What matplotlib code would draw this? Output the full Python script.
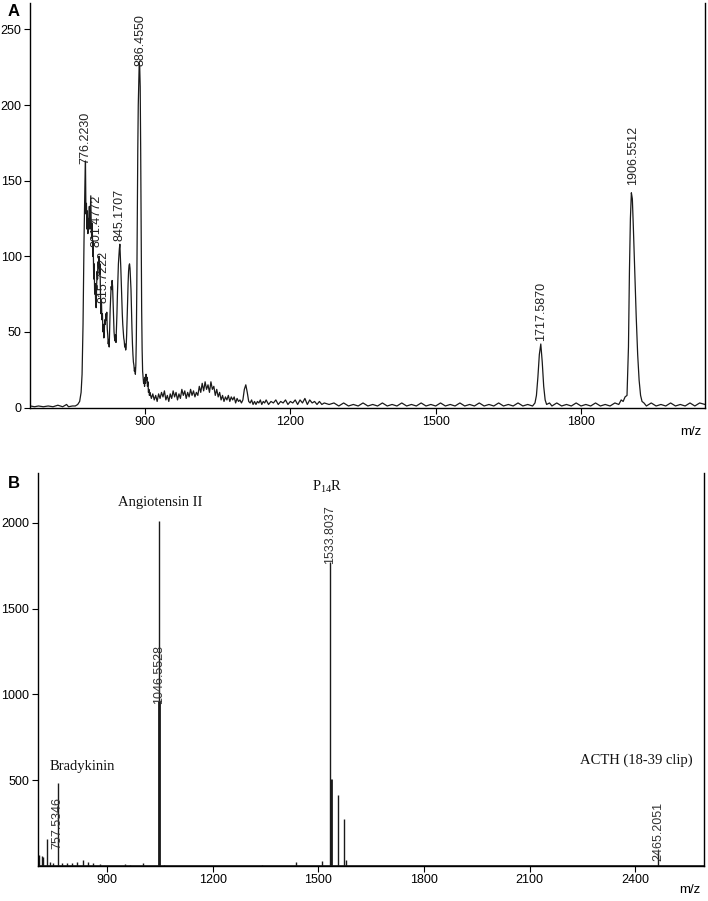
import numpy as np
import matplotlib.pyplot as plt

plt.rcParams['font.family'] = ['Liberation Sans', 'DejaVu Sans']

# ---- panel A: MALDI spectrum trace (m/z, intensity)
trace_a = [
    (663, 1), (672, 0.5), (680, 1), (690, 0.5), (700, 1), (710, 0.5), (720, 1.5),
    (730, 0.5), (738, 2), (742, 0.5), (750, 1), (756, 1), (761, 2), (765, 4),
    (768, 10), (770, 22), (772, 55), (774, 110), (776, 150), (777, 163),
    (778, 128), (779, 135), (780, 118), (781, 130), (782, 115), (783, 125),
    (784, 120), (785, 133), (786, 118), (787, 128), (788, 140), (789, 118),
    (790, 112), (791, 122), (792, 100), (793, 110), (794, 85), (795, 95),
    (796, 75), (797, 82), (798, 70), (799, 66), (800, 80), (801, 90), (802, 85),
    (803, 96), (804, 92), (805, 100), (806, 88), (807, 95), (808, 75), (809, 62),
    (810, 70), (811, 58), (812, 62), (813, 50), (814, 55), (815, 46), (816, 52),
    (817, 58), (818, 55), (819, 62), (820, 58), (821, 63), (822, 52), (823, 48),
    (824, 42), (825, 45), (826, 40), (827, 52), (828, 65), (829, 72), (830, 80),
    (831, 78), (832, 84), (833, 80), (834, 70), (835, 58), (836, 50), (837, 46),
    (838, 44), (839, 48), (840, 43), (841, 52), (842, 62), (843, 75), (844, 85),
    (845, 95), (846, 100), (847, 105), (848, 108), (849, 100), (850, 92),
    (851, 82), (852, 70), (853, 62), (854, 55), (855, 50), (856, 46), (857, 44),
    (858, 40), (859, 42), (860, 38), (861, 40), (862, 48), (863, 58), (864, 70),
    (865, 82), (866, 90), (867, 94), (868, 95), (869, 92), (870, 85), (871, 78),
    (872, 65), (873, 52), (874, 42), (875, 35), (876, 30), (877, 28), (878, 24),
    (879, 26), (880, 22), (881, 28), (882, 45), (883, 80), (884, 130), (885, 170),
    (886, 200), (887, 215), (888, 228), (889, 225), (890, 212), (891, 170),
    (892, 115), (893, 65), (894, 38), (895, 24), (896, 20), (897, 16), (898, 18),
    (899, 14), (900, 20), (901, 16), (902, 22), (903, 18), (904, 20), (905, 14),
    (906, 17), (907, 10), (908, 12), (909, 8), (910, 10), (913, 6), (916, 9),
    (919, 5), (922, 8), (925, 4), (928, 9), (931, 6), (934, 10), (937, 7),
    (940, 11), (943, 5), (946, 8), (949, 4), (952, 9), (955, 6), (958, 11),
    (961, 7), (964, 10), (967, 5), (970, 9), (973, 6), (976, 12), (979, 8),
    (982, 11), (985, 6), (988, 10), (991, 7), (994, 12), (997, 8), (1000, 11),
    (1003, 7), (1006, 10), (1009, 8), (1012, 14), (1015, 10), (1018, 16),
    (1021, 11), (1024, 17), (1027, 12), (1030, 15), (1033, 10), (1036, 17),
    (1039, 12), (1042, 14), (1045, 8), (1048, 12), (1051, 7), (1054, 10),
    (1057, 5), (1060, 8), (1063, 4), (1066, 7), (1069, 5), (1072, 8), (1075, 4),
    (1078, 7), (1081, 5), (1084, 7), (1087, 3), (1090, 6), (1093, 4), (1096, 5),
    (1099, 3), (1102, 5), (1105, 12), (1108, 15), (1111, 10), (1114, 4),
    (1117, 3), (1120, 5), (1123, 2), (1126, 4), (1129, 2), (1132, 4), (1135, 3),
    (1138, 5), (1141, 2), (1144, 4), (1147, 3), (1150, 5), (1155, 2), (1160, 4),
    (1165, 3), (1170, 5), (1175, 2), (1180, 4), (1185, 3), (1190, 5), (1195, 2),
    (1200, 4), (1205, 3), (1210, 5), (1215, 2), (1220, 5), (1225, 3), (1230, 6),
    (1235, 2), (1240, 5), (1245, 3), (1250, 4), (1255, 2), (1260, 4), (1265, 2),
    (1270, 3), (1280, 2), (1290, 3), (1300, 1), (1310, 3), (1320, 1), (1330, 2),
    (1340, 1), (1350, 3), (1360, 1), (1370, 2), (1380, 1), (1390, 3), (1400, 1),
    (1410, 2), (1420, 1), (1430, 3), (1440, 1), (1450, 2), (1460, 1), (1470, 3),
    (1480, 1), (1490, 2), (1500, 1), (1510, 3), (1520, 1), (1530, 2), (1540, 1),
    (1550, 3), (1560, 1), (1570, 2), (1580, 1), (1590, 3), (1600, 1), (1610, 2),
    (1620, 1), (1630, 3), (1640, 1), (1650, 2), (1660, 1), (1670, 3), (1680, 1),
    (1690, 2), (1700, 1), (1705, 3), (1708, 8), (1711, 20), (1714, 35),
    (1717, 42), (1720, 30), (1723, 14), (1726, 5), (1729, 2), (1735, 3),
    (1740, 1), (1750, 3), (1760, 1), (1770, 2), (1780, 1), (1790, 3), (1800, 1),
    (1810, 2), (1820, 1), (1830, 3), (1840, 1), (1850, 2), (1860, 1), (1870, 3),
    (1878, 2), (1883, 5), (1887, 4), (1891, 7), (1895, 8), (1898, 40),
    (1900, 90), (1902, 125), (1904, 142), (1906, 138), (1908, 120), (1911, 90),
    (1914, 60), (1917, 35), (1920, 18), (1923, 8), (1926, 4), (1930, 3),
    (1935, 1), (1945, 3), (1955, 1), (1965, 2), (1975, 1), (1985, 3), (1995, 1),
    (2005, 2), (2015, 1), (2025, 3), (2035, 1), (2045, 3), (2056, 2),
]
labels_a = ['776.2230', '801.4772', '815.7222', '845.1707', '886.4550', '1717.5870', '1906.5512']
label_a_mz = [776, 800, 814, 848, 890, 1718, 1907]
label_a_y = [160, 105, 68, 109, 225, 43, 146]

# ---- panel B: stick spectrum (m/z, intensity)
stick_mz = [707, 713, 718, 729, 737, 746, 760, 770, 785, 800, 815, 830, 845,
            860, 880, 950, 965, 1002, 1046, 1048, 1060, 1340, 1437, 1510, 1534,
            1536, 1555, 1573, 1578, 2466]
stick_int = [64, 60, 55, 156, 25, 20, 484, 20, 15, 18, 22, 35, 25,
             15, 12, 10, 8, 20, 2010, 960, 8, 8, 25, 30, 1771,
             505, 413, 273, 35, 85]
labels_b = ['757.5346', '1046.5528', '1533.8037', '2465.2051']
label_b_mz = [758, 1048, 1534, 2466]
label_b_y = [248, 1113, 1929, 204]
names_b = ['Bradykinin', 'Angiotensin II', r'P$_\mathregular{14}$R', 'ACTH (18-39 clip)']
names_b_mz = [828, 1050, 1525, 2403]
names_b_y = [577, 2120, 2208, 618]

fig = plt.figure(figsize=(7.08, 9.01), dpi=100)

mz_a, int_a = np.array(trace_a).T
ax1 = fig.add_axes([30 / 708, 1 - 407.5 / 901, 675 / 708, 404.5 / 901])
ax1.plot(mz_a, int_a, color='#1a1a1a', lw=0.9)
ax1.set_xlim(662.5, 2056)
ax1.set_ylim(0, 267.5)
ax1.set_xticks([900, 1200, 1500, 1800])
ax1.set_yticks([0, 50, 100, 150, 200, 250])
for lab, x, y in zip(labels_a, label_a_mz, label_a_y):
    ax1.text(x, y + 1, lab, rotation=90, ha='center', va='bottom',
             fontsize=9, color='#222222')
ax1.text(0.995, -0.045, 'm/z', transform=ax1.transAxes, ha='right', va='top', fontsize=9.5)
fig.text(8 / 708, 1 - 12 / 901, 'A', fontsize=12, fontweight='bold', va='center')

ax2 = fig.add_axes([37.7 / 708, 1 - 866 / 901, 666.3 / 708, 393 / 901])
lws = [2.0 if v > 500 and v < 1000 else 1.0 for v in stick_int]
ax2.vlines(stick_mz, 0, stick_int, colors='#1a1a1a', linewidths=lws)
ax2.axhline(0, color='#1a1a1a', lw=1.2)
ax2.set_xlim(702, 2596)
ax2.set_ylim(0, 2290)
ax2.set_xticks([900, 1200, 1500, 1800, 2100, 2400])
ax2.set_yticks([500, 1000, 1500, 2000])
for lab, x, y in zip(labels_b, label_b_mz, label_b_y):
    ax2.text(x, y, lab, rotation=90, ha='center', va='center',
             fontsize=9, color='#333333')
for lab, x, y in zip(names_b, names_b_mz, names_b_y):
    ax2.text(x, y, lab, ha='center', va='center', fontsize=10.5,
             family='Liberation Serif', color='#111111')
ax2.text(0.995, -0.045, 'm/z', transform=ax2.transAxes, ha='right', va='top', fontsize=9.5)
fig.text(8 / 708, 1 - 483 / 901, 'B', fontsize=12, fontweight='bold', va='center')

for ax in (ax1, ax2):
    ax.spines['top'].set_visible(False)
    for s in ax.spines.values():
        s.set_linewidth(1.0)
    ax.tick_params(direction='out', length=4, width=0.8, labelsize=9, pad=2)

fig.savefig('out.png', dpi=100)
